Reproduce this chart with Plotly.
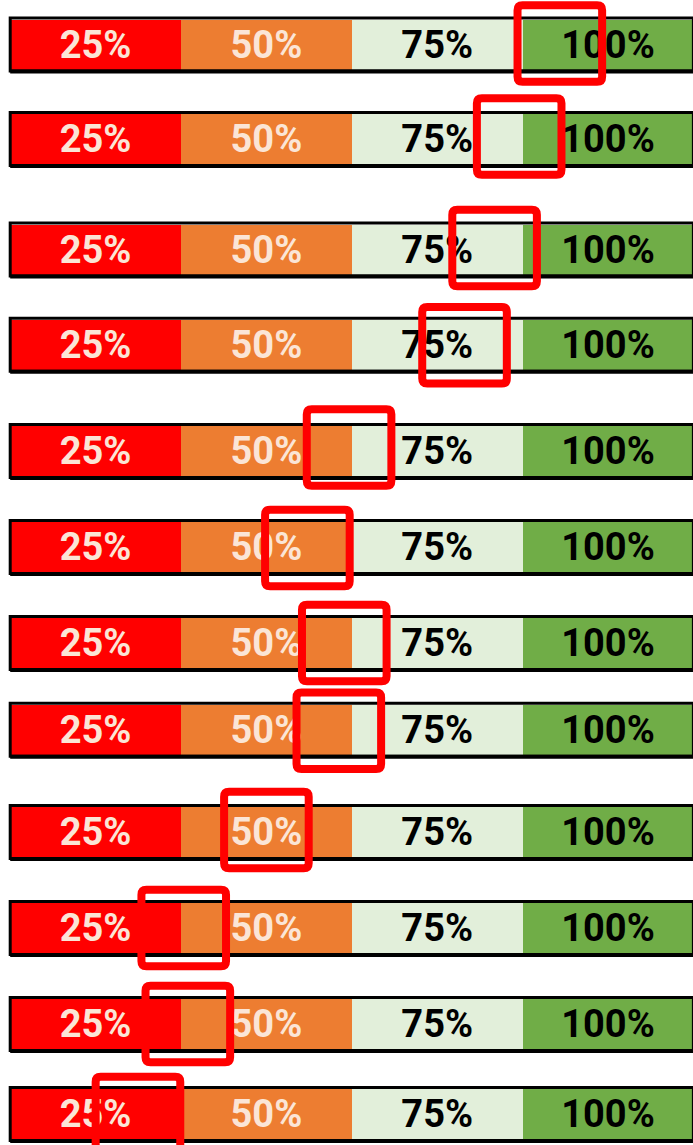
import plotly.graph_objects as go

# ---- data ----
row_centers = [44.5, 139, 249.5, 344.7, 451, 547, 643, 729.7, 832, 928, 1024, 1114]
segment_sizes = [25, 25, 25, 25]
segment_labels = ["25%", "50%", "75%", "100%"]
segment_colors = ["#FF0000", "#ED7D31", "#E2EFDA", "#70AD47"]
label_colors = ["#FBE5D6", "#FBE5D6", "#000000", "#000000"]
marker_values = [80.45, 74.5, 70.9, 66.5, 49.6, 43.5, 48.9, 48.1, 37.5, 25.4, 26.0, 18.7]
marker_offsets = [-1, -2.5, -1.5, 0.5, -3.5, 1, 0, 1, -2, 0, 0, 1]

W, H = 693, 1145
px_per_unit = 6.832
x_left_px = 10.2
x_range = [-x_left_px / px_per_unit, (W - x_left_px) / px_per_unit]

fig = go.Figure()
n = len(row_centers)
for size, lab, col, tcol in zip(segment_sizes, segment_labels, segment_colors, label_colors):
    fig.add_trace(go.Bar(
        orientation="h",
        x=[size] * n,
        y=row_centers,
        width=50,
        marker=dict(color=col, line=dict(width=0)),
        text=[lab] * n,
        textposition="inside",
        insidetextanchor="middle",
        constraintext="none",
        textfont=dict(family="Roboto", size=38, color=tcol, weight="bold"),
        hoverinfo="skip",
        showlegend=False,
    ))

shapes = []
total = sum(segment_sizes)
for c in row_centers:
    shapes.append(dict(type="rect", xref="x", yref="y", x0=0, x1=total,
                       y0=c - 26.5, y1=c + 26.5,
                       line=dict(color="black", width=3), layer="above"))
    shapes.append(dict(type="line", xref="x", yref="y", x0=0, x1=total,
                       y0=c + 27, y1=c + 27,
                       line=dict(color="black", width=4), layer="above"))

# rounded rectangle markers
hw_px, hh_px, r_px = 42.3, 38.3, 5
for v, c, off in zip(marker_values, row_centers, marker_offsets):
    cy = c + off
    hw = hw_px / px_per_unit
    rx = r_px / px_per_unit
    hh = hh_px
    ry = r_px
    x0, x1 = v - hw, v + hw
    y0, y1 = cy - hh, cy + hh
    path = (f"M {x0+rx},{y0} L {x1-rx},{y0} Q {x1},{y0} {x1},{y0+ry} "
            f"L {x1},{y1-ry} Q {x1},{y1} {x1-rx},{y1} "
            f"L {x0+rx},{y1} Q {x0},{y1} {x0},{y1-ry} "
            f"L {x0},{y0+ry} Q {x0},{y0} {x0+rx},{y0} Z")
    shapes.append(dict(type="path", xref="x", yref="y", path=path,
                       line=dict(color="#FF0000", width=8), layer="above"))

fig.update_layout(
    barmode="stack",
    width=W, height=H,
    margin=dict(l=0, r=0, t=0, b=0),
    paper_bgcolor="white", plot_bgcolor="white",
    xaxis=dict(range=x_range, visible=False, fixedrange=True),
    yaxis=dict(range=[H, 0], visible=False, fixedrange=True),
    shapes=shapes,
)

fig.write_html("out.html", config={"displayModeBar": False},
               post_script="document.body.style.margin='0';document.body.style.overflow='hidden';")
